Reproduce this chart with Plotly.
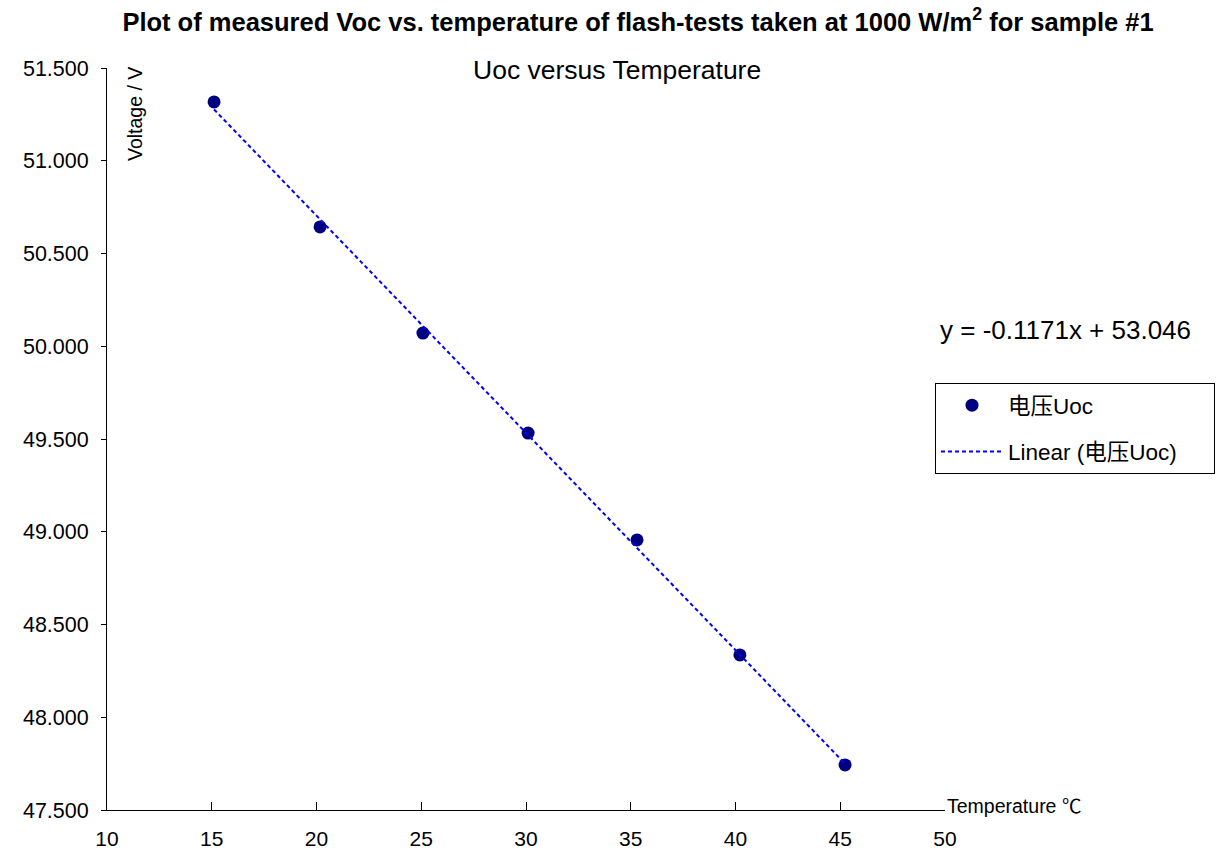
import plotly.graph_objects as go

# Data
temperature = [15.11, 20.17, 25.08, 30.10, 35.30, 40.21, 45.23]
voltage_uoc = [51.317, 50.643, 50.071, 49.532, 48.956, 48.336, 47.743]
slope = -0.1171
intercept = 53.046
x_ticks = [10, 15, 20, 25, 30, 35, 40, 45, 50]
y_ticks = [47.5, 48.0, 48.5, 49.0, 49.5, 50.0, 50.5, 51.0, 51.5]

FONT = "Liberation Sans, Arial, Noto Sans CJK SC, sans-serif"

trend_x = [min(temperature), max(temperature)]
trend_y = [slope * t + intercept for t in trend_x]

fig = go.Figure()
fig.add_trace(go.Scatter(
    x=temperature, y=voltage_uoc, mode="markers", name="电压Uoc", legendgroup="a",
    marker=dict(color="#000080", size=13, line=dict(width=0)),
))
fig.add_trace(go.Scatter(
    x=trend_x, y=trend_y, mode="lines",
    name="Linear (电压Uoc)&nbsp;&nbsp;&nbsp;&nbsp;&nbsp;", legendgroup="b",
    line=dict(color="#0000FF", width=2, dash="4px,3px"),
))

fig.update_layout(
    width=1223, height=865,
    margin=dict(l=107, r=278, t=68, b=55, autoexpand=False),
    paper_bgcolor="white", plot_bgcolor="white",
    font=dict(family=FONT, size=18, color="black"),
    title=dict(
        text="<b>Plot of measured Voc vs. temperature of flash-tests taken at 1000 W/m<sup>2</sup> for sample #1</b>",
        x=638 / 1223, xanchor="center", y=0.975, yanchor="middle",
        font=dict(size=25.5, family=FONT),
    ),
    showlegend=True,
    legend=dict(
        x=(935 - 107) / 838, y=(810 - 383) / 742, xanchor="left", yanchor="top",
        bordercolor="black", borderwidth=1, bgcolor="white",
        font=dict(size=22.5, family=FONT), itemwidth=62,
        tracegroupgap=14,
    ),
    xaxis=dict(
        range=[10, 50], tickvals=x_ticks, ticktext=[str(v) for v in x_ticks],
        showgrid=False, zeroline=False, showline=True, linecolor="black", linewidth=1,
        ticks="inside", ticklen=8, tickcolor="black", ticklabelstandoff=10,
        tickfont=dict(size=21),
    ),
    yaxis=dict(
        range=[47.5, 51.5], tickvals=y_ticks, ticktext=[f"{v:.3f}" for v in y_ticks],
        showgrid=False, zeroline=False, showline=True, linecolor="black", linewidth=1,
        ticks="outside", ticklen=5, tickcolor="black", ticklabelstandoff=8,
        tickfont=dict(size=21.5),
    ),
    annotations=[
        dict(text="Uoc versus Temperature", xref="paper", yref="paper",
             x=(617 - 107) / 838, y=(810 - 70) / 742, xanchor="center", yanchor="middle",
             showarrow=False, font=dict(size=26.5)),
        dict(text="Voltage / V", xref="paper", yref="paper", textangle=-90,
             x=(135 - 107) / 838, y=(810 - 114) / 742, xanchor="center", yanchor="middle",
             showarrow=False, font=dict(size=19.5)),
        dict(text="Temperature ℃", xref="paper", yref="paper",
             x=1.0, y=(810 - 806) / 742, xanchor="left", yanchor="middle",
             showarrow=False, font=dict(size=19.5)),
        dict(text="y = -0.1171x + 53.046", xref="paper", yref="paper",
             x=(1065 - 107) / 838, y=(810 - 330) / 742, xanchor="center", yanchor="middle",
             showarrow=False, font=dict(size=26)),
    ],
)

fig.write_html("out.html")
